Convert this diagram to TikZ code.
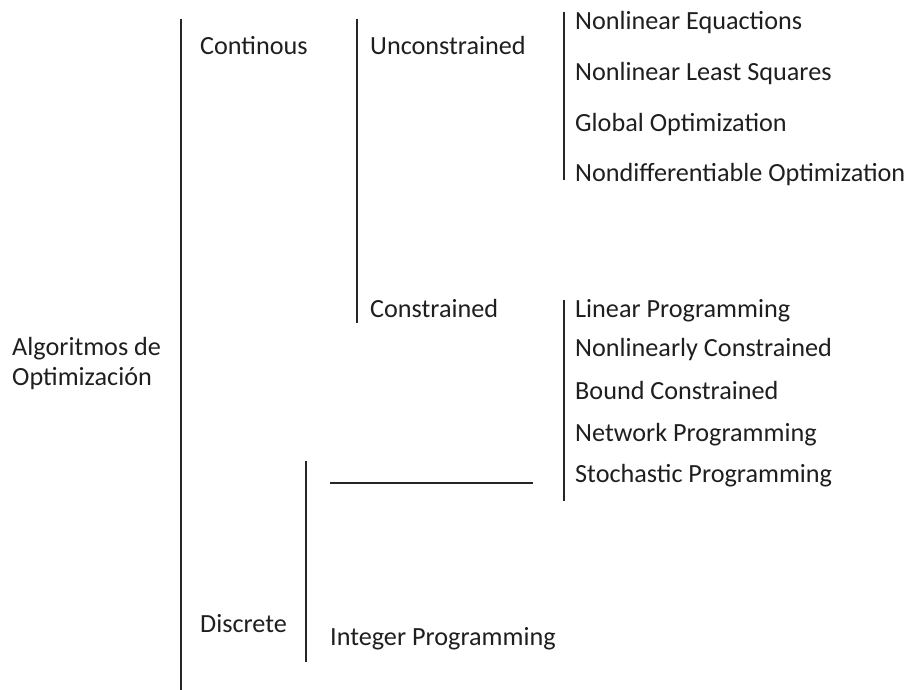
\documentclass[tikz,border=0pt]{standalone}
\usepackage{fontspec}
\setmainfont{Carlito}
\begin{document}
\begin{tikzpicture}[x=1pt,y=-1pt,
  lbl/.style={anchor=base west,inner sep=0pt,text=black!88,font=\fontsize{26.2}{30}\selectfont},
  bar/.style={line width=1.8pt,black!85}]
\useasboundingbox (0,0) rectangle (908,690);
\fill[white] (0,0) rectangle (908,690);
% labels
\node[lbl] (alg1) at (12,355) {Algoritmos de};
\node[lbl] (alg2) at (12,385) {Optimización};
\node[lbl] (cont) at (200,55) {Continous};
\node[lbl] (disc) at (200,632) {Discrete};
\node[lbl] (unc) at (370,55) {Unconstrained};
\node[lbl] (con) at (370,317) {Constrained};
\node[lbl] (u1) at (575,30) {Nonlinear Equactions};
\node[lbl] (u2) at (575,81) {Nonlinear Least Squares};
\node[lbl] (u3) at (575,132) {Global Optimization};
\node[lbl] (u4) at (575,182) {Nondifferentiable Optimization};
\node[lbl] (c1) at (575,317) {Linear Programming};
\node[lbl] (c2) at (575,356) {Nonlinearly Constrained};
\node[lbl] (c3) at (575,399) {Bound Constrained};
\node[lbl] (c4) at (575,441) {Network Programming};
\node[lbl] (c5) at (575,482) {Stochastic Programming};
\node[lbl] (ip) at (330,645) {Integer Programming};
% bar end points
\coordinate (m1) at (181,19);  \coordinate (m2) at (181,690);
\coordinate (s1) at (357,19);  \coordinate (s2) at (357,323);
\coordinate (ua) at (564,12);  \coordinate (ub) at (564,180);
\coordinate (ca) at (564,300); \coordinate (cb) at (564,501);
\coordinate (da) at (306,461); \coordinate (db) at (306,662);
\coordinate (ha) at (330,483); \coordinate (hb) at (533,483);
\draw[bar] (m1) -- (m2);
\draw[bar] (s1) -- (s2);
\draw[bar] (ua) -- (ub);
\draw[bar] (ca) -- (cb);
\draw[bar] (da) -- (db);
\draw[bar] (ha) -- (hb);
\end{tikzpicture}
\end{document}
